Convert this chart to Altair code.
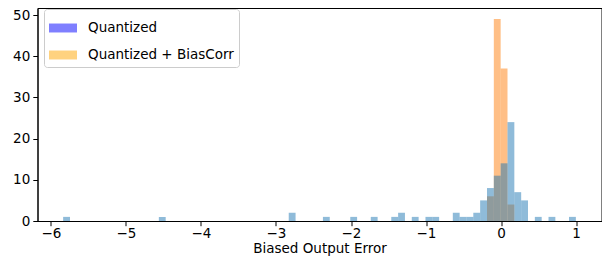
import altair as alt
import numpy as np
import pandas as pd

# Histogram bin grid (shared by both series)
x_lo, x_hi, n_bins = -5.838, 0.998, 75

# Counts per bin (75 bins)
quant_counts = [0] * n_bins
for k, c in {0: 1, 14: 1, 33: 2, 38: 1, 42: 1, 45: 1, 48: 1, 49: 2, 51: 1,
             53: 1, 54: 1, 57: 2, 58: 1, 59: 1, 60: 2, 61: 5, 62: 8, 63: 11,
             64: 14, 65: 24, 66: 7, 67: 5, 69: 1, 71: 1, 74: 1}.items():
    quant_counts[k] = c

bias_counts = [0] * n_bins
for k, c in {62: 6, 63: 49, 64: 37, 65: 4}.items():
    bias_counts[k] = c

series_names = ["Quantized", "Quantized + BiasCorr"]
bar_colors = ["#1f77b4", "#ff7f0e"]
legend_colors = ["blue", "orange"]
x_ticks = [-6, -5, -4, -3, -2, -1, 0, 1]
y_ticks = [0, 10, 20, 30, 40, 50]

edges = np.linspace(x_lo, x_hi, n_bins + 1)
rows = []
for name, counts in zip(series_names, [quant_counts, bias_counts]):
    for i, c in enumerate(counts):
        if c > 0:
            rows.append(dict(series=name, x0=edges[i], x1=edges[i + 1], count=c))
df = pd.DataFrame(rows)

PLOT_H = 213
span = x_hi - x_lo
xscale = alt.Scale(domain=[x_lo - 0.05 * span, x_hi + 0.05 * span], nice=False, zero=False)
# leave ~7px above the 50 tick so its label is not cut at the page top
yscale = alt.Scale(domain=[0, 50 * PLOT_H / (PLOT_H - 7)], nice=False)

FONT = "DejaVu Sans"
FS = 13.5

xaxis = alt.Axis(values=x_ticks, format="d", title="Biased Output Error",
                 labelExpr="replace(datum.label, '-', '\u2212')",
                 grid=False, tickSize=4.7, tickColor="black", domainColor="black",
                 labelColor="black", labelFont=FONT, labelFontSize=FS, labelPadding=1,
                 titleFont=FONT, titleFontSize=FS, titleFontWeight="normal",
                 titleColor="black", titlePadding=1)
yaxis = alt.Axis(values=y_ticks, title=None, grid=False, tickSize=4.7,
                 tickColor="black", domainColor="black", labelColor="black",
                 labelFont=FONT, labelFontSize=FS, labelPadding=3)

def bars(name, color):
    return alt.Chart(df).transform_filter(alt.datum.series == name).mark_rect(
        color=color, opacity=0.5
    ).encode(
        x=alt.X("x0:Q", scale=xscale, axis=xaxis),
        x2="x1:Q",
        y=alt.Y("count:Q", scale=yscale, axis=yaxis),
        y2=alt.datum(0),
    )

orange = bars(series_names[1], bar_colors[1])
blue = bars(series_names[0], bar_colors[0])

legend_layer = alt.Chart(df).mark_square(opacity=0).encode(
    x=alt.X("x0:Q", scale=xscale, axis=xaxis),
    y=alt.Y("count:Q", scale=yscale, axis=yaxis),
    color=alt.Color("series:N",
                    scale=alt.Scale(domain=series_names, range=legend_colors),
                    legend=alt.Legend(
                        title=None, orient="none", legendX=6.5, legendY=1,
                        symbolType="M-1,-0.32H1V0.32H-1Z", symbolSize=784,
                        symbolOpacity=0.5, symbolStrokeWidth=0,
                        labelFont=FONT, labelFontSize=FS, labelColor="black",
                        labelOffset=11, rowPadding=6, padding=5,
                        strokeColor="#cccccc", fillColor="white",
                        cornerRadius=3)),
)

chart = alt.layer(orange, blue, legend_layer).properties(
    width=564, height=PLOT_H,
    autosize=alt.AutoSizeParams(type="none"),
    padding={"left": 29.5, "top": 0, "right": 0.5, "bottom": 37},
).configure_view(stroke="black", strokeWidth=1)

chart.save("out.html", embed_options={"renderer": "svg", "actions": False})
